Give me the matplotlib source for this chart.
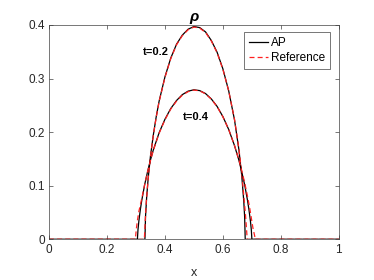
import numpy as np
import matplotlib
matplotlib.use('Agg')
import matplotlib.pyplot as plt

plt.rcParams['font.family'] = ['Liberation Sans', 'DejaVu Sans']

# t=0.2, AP solution
x_ap_02 = [0, 0.331, 0.333, 0.337, 0.342, 0.35, 0.36, 0.37, 0.38, 0.40, 0.42, 0.44, 0.46,
           0.48, 0.50, 0.52, 0.54, 0.56, 0.58, 0.60, 0.62, 0.64, 0.655, 0.665, 0.672,
           0.675, 0.677, 1]
y_ap_02 = [0, 0, 0.042, 0.079, 0.113, 0.155, 0.195, 0.229, 0.258, 0.303, 0.338, 0.364, 0.381,
           0.392, 0.397, 0.395, 0.387, 0.371, 0.349, 0.318, 0.277, 0.223, 0.168, 0.119, 0.071,
           0.042, 0, 0]

# t=0.2, reference solution
x_ref_02 = [0, 0.329, 0.332, 0.336, 0.342, 0.35, 0.36, 0.37, 0.38, 0.40, 0.42, 0.44, 0.46,
            0.48, 0.50, 0.52, 0.54, 0.56, 0.58, 0.60, 0.62, 0.64, 0.655, 0.665, 0.672,
            0.678, 0.684, 1]
y_ref_02 = [0, 0, 0.035, 0.072, 0.112, 0.154, 0.194, 0.228, 0.257, 0.302, 0.337, 0.363, 0.380,
            0.391, 0.396, 0.394, 0.386, 0.370, 0.348, 0.317, 0.277, 0.224, 0.170, 0.124, 0.082,
            0.045, 0, 0]

# t=0.4, AP solution
x_ap_04 = [0, 0.305, 0.307, 0.310, 0.315, 0.32, 0.33, 0.34, 0.35, 0.36, 0.38, 0.40, 0.42,
           0.44, 0.46, 0.48, 0.50, 0.52, 0.54, 0.56, 0.58, 0.60, 0.62, 0.64, 0.655,
           0.665, 0.675, 0.685, 0.69, 0.695, 0.698, 0.700, 1]
y_ap_04 = [0, 0, 0.018, 0.034, 0.055, 0.0725, 0.102, 0.126, 0.148, 0.167, 0.199, 0.224, 0.244,
           0.259, 0.270, 0.2765, 0.279, 0.2775, 0.272, 0.262, 0.248, 0.229, 0.205, 0.175, 0.148,
           0.126, 0.102, 0.0725, 0.055, 0.034, 0.018, 0, 0]

# t=0.4, reference solution
x_ref_04 = [0, 0.298, 0.301, 0.305, 0.31, 0.315, 0.32, 0.33, 0.34, 0.35, 0.36, 0.38, 0.40,
            0.42, 0.44, 0.46, 0.48, 0.50, 0.52, 0.54, 0.56, 0.58, 0.60, 0.62, 0.64,
            0.655, 0.665, 0.675, 0.685, 0.692, 0.698, 0.704, 0.709, 0.712, 1]
y_ref_04 = [0, 0, 0.018, 0.035, 0.052, 0.064, 0.076, 0.102, 0.126, 0.147, 0.166, 0.198, 0.223,
            0.243, 0.258, 0.269, 0.2755, 0.2785, 0.277, 0.2715, 0.2615, 0.2475, 0.2285, 0.205,
            0.175, 0.149, 0.128, 0.106, 0.080, 0.060, 0.040, 0.020, 0.008, 0, 0]

fig = plt.figure(figsize=(3.74, 2.8), dpi=100)
ax = fig.add_axes([0.131, 0.145, 0.775, 0.766])

ax.plot(x_ap_02, y_ap_02, color='black', lw=0.9, label='AP')
ax.plot(x_ref_02, y_ref_02, color='#ff2020', lw=0.9, dashes=(4, 2.5), label='Reference')
ax.plot(x_ap_04, y_ap_04, color='black', lw=0.9)
ax.plot(x_ref_04, y_ref_04, color='#ff2020', lw=0.9, dashes=(4, 2.5))

ax.text(0.324, 0.350, 't=0.2', fontsize=8, fontweight='bold', va='center', ha='left')
ax.text(0.461, 0.229, 't=0.4', fontsize=8, fontweight='bold', va='center', ha='left')

ax.set_xlim(0, 1)
ax.set_ylim(0, 0.4)
ax.set_xticks([0, 0.2, 0.4, 0.6, 0.8, 1])
ax.set_xticklabels(['0', '0.2', '0.4', '0.6', '0.8', '1'])
ax.set_yticks([0, 0.1, 0.2, 0.3, 0.4])
ax.set_yticklabels(['0', '0.1', '0.2', '0.3', '0.4'])
ax.tick_params(direction='in', length=3, width=0.5, color='#404040', labelcolor='#262626',
               labelsize=8.5, top=True, right=True, pad=3)
for sp in ax.spines.values():
    sp.set_color('#404040')
    sp.set_linewidth(0.5)

ax.set_xlabel('x', fontsize=9, color='#262626', labelpad=8)
ax.set_title('ρ', fontsize=11, fontweight='bold', style='italic', pad=3)

leg = ax.legend(loc='upper right', bbox_to_anchor=(0.970, 0.966), borderaxespad=0,
                fontsize=8.5, fancybox=False, framealpha=1, edgecolor='#404040',
                handlelength=1.6, handletextpad=0.3, borderpad=0.4, labelspacing=0.3)
leg.get_frame().set_linewidth(0.5)

fig.savefig('out.png', dpi=100)
